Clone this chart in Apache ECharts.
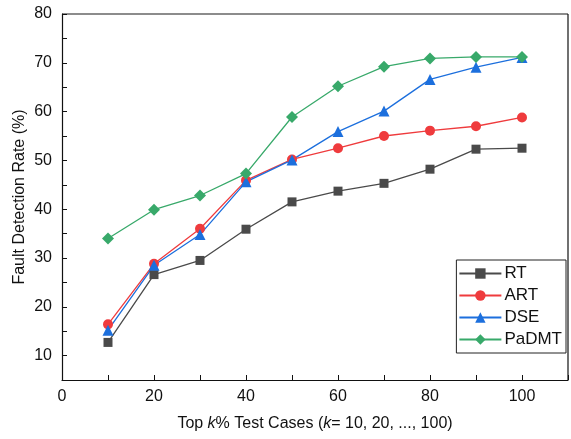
<!DOCTYPE html>
<html>
<head>
<meta charset="utf-8">
<script src="https://cdn.jsdelivr.net/npm/echarts@6/dist/echarts.min.js"></script>
<style>
  html, body { margin: 0; padding: 0; background: #fff; }
  #chart { width: 571px; height: 439px; }
</style>
</head>
<body>
<div id="chart"></div>
<script>
// top k% of test cases
var kValues = [10, 20, 30, 40, 50, 60, 70, 80, 90, 100];
var rtData = [12.7, 26.6, 29.5, 35.9, 41.5, 43.7, 45.3, 48.2, 52.3, 52.5];
var artData = [16.4, 28.8, 36.0, 45.9, 50.2, 52.5, 55.0, 56.1, 57.0, 58.8];
var dseData = [15.2, 28.5, 34.8, 45.6, 50.1, 55.9, 60.1, 66.6, 69.1, 71.1];
var padmtData = [34.0, 39.9, 42.8, 47.3, 58.9, 65.2, 69.2, 70.9, 71.2, 71.2];

function pairs(vals) {
  return kValues.map(function (k, i) { return [k, vals[i]]; });
}

var font = "Liberation Sans, Arial, sans-serif";
var chart = echarts.init(document.getElementById("chart"));

function makeSeries(name, vals, color, symbol, size) {
  return {
    name: name,
    type: "line",
    data: pairs(vals),
    symbol: symbol,
    symbolSize: size,
    lineStyle: { color: color, width: 1.3 },
    itemStyle: { color: color },
    emphasis: { disabled: true }
  };
}

chart.setOption({
  animation: false,
  grid: { left: 62, right: 3, top: 14, bottom: 59 },
  legend: {
    orient: "vertical",
    right: 5,
    top: 260,
    itemWidth: 42,
    itemHeight: 13,
    itemGap: 5,
    padding: [5, 4, 5, 2],
    borderColor: "#222",
    borderWidth: 1,
    textStyle: { fontFamily: font, fontSize: 17, lineHeight: 17, color: "#111", padding: [0, 0, 0, -2] },
    data: ["RT", "ART", "DSE", "PaDMT"]
  },
  xAxis: {
    type: "value",
    min: 0,
    max: 110,
    interval: 10,
    name: "Top {i|k}% Test Cases ({i|k}= 10, 20, ..., 100)",
    nameLocation: "middle",
    nameGap: 36,
    nameMoveOverlap: false,
    nameTextStyle: {
      fontFamily: font, fontSize: 16, color: "#111",
      rich: { i: { fontStyle: "italic", fontFamily: font, fontSize: 16, color: "#111" } }
    },
    axisLine: { lineStyle: { color: "#111", width: 1.2 } },
    axisTick: { inside: true, length: 5, lineStyle: { color: "#111" } },
    axisLabel: {
      fontFamily: font, fontSize: 16, color: "#111", margin: 9,
      formatter: function (v) { return (v % 20 === 0 && v <= 100) ? v : ""; }
    },
    splitLine: { show: false }
  },
  yAxis: {
    type: "value",
    min: 5,
    max: 80,
    interval: 5,
    name: "Fault Detection Rate (%)",
    nameLocation: "middle",
    nameGap: 34,
    nameMoveOverlap: false,
    nameTextStyle: { fontFamily: font, fontSize: 16, color: "#111" },
    axisLine: { show: true, lineStyle: { color: "#111", width: 1.2 } },
    axisTick: { inside: true, length: 5, lineStyle: { color: "#111" } },
    axisLabel: {
      fontFamily: font, fontSize: 16, color: "#111", margin: 10,
      formatter: function (v) { return v % 10 === 0 ? v : ""; }
    },
    splitLine: { show: false }
  },
  graphic: [
    { type: "line", shape: { x1: 62, y1: 14, x2: 568, y2: 14 }, style: { stroke: "#666", lineWidth: 1.5 }, silent: true },
    { type: "line", shape: { x1: 568, y1: 14, x2: 568, y2: 380 }, style: { stroke: "#111", lineWidth: 1.2 }, silent: true }
  ],
  series: [
    makeSeries("RT", rtData, "#4a4a4a", "rect", 9),
    makeSeries("ART", artData, "#ef3b3d", "circle", 10),
    makeSeries("DSE", dseData, "#1c6fdd", "triangle", 11),
    makeSeries("PaDMT", padmtData, "#38a96a", "diamond", 12)
  ]
});
</script>
</body>
</html>
